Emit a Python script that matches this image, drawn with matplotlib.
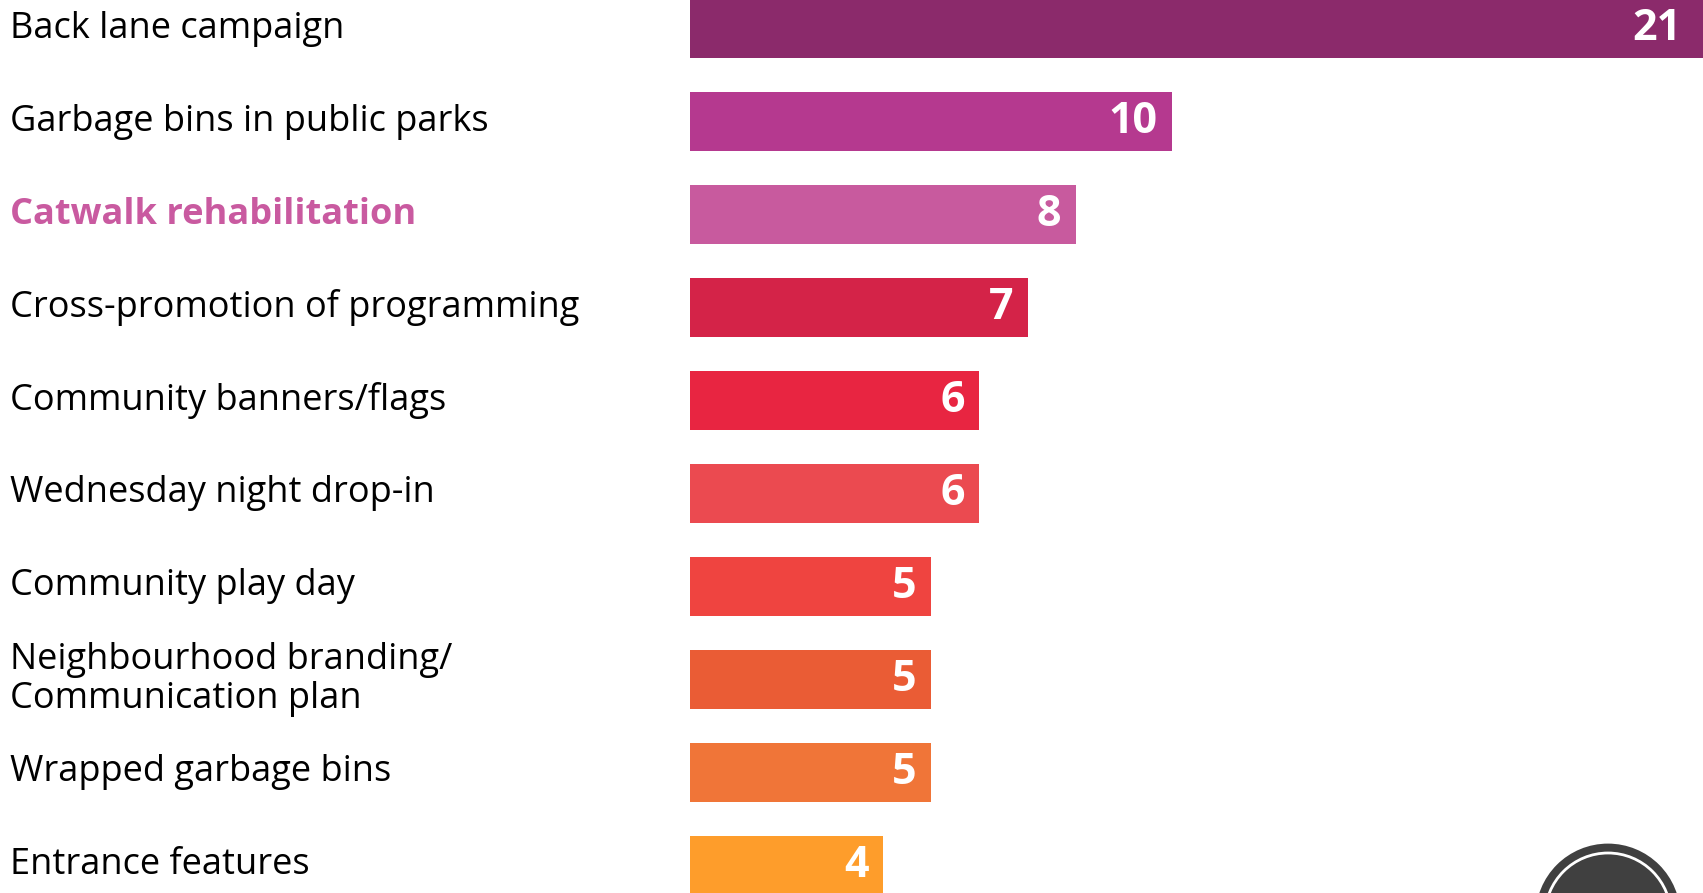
import matplotlib.pyplot as plt
from matplotlib.patches import Circle
from matplotlib.transforms import blended_transform_factory

# data
labels = [
    "Back lane campaign",
    "Garbage bins in public parks",
    "Catwalk rehabilitation",
    "Cross-promotion of programming",
    "Community banners/flags",
    "Wednesday night drop-in",
    "Community play day",
    "Neighbourhood branding/\nCommunication plan",
    "Wrapped garbage bins",
    "Entrance features",
]
counts = [21, 10, 8, 7, 6, 6, 5, 5, 5, 4]
colors = ["#8B2A6B", "#B5398F", "#C85A9E", "#D42348", "#E82541",
          "#EB4A50", "#EF4440", "#EA5C35", "#F07538", "#FE9D2B"]
highlight = 2  # Catwalk rehabilitation

plt.rcParams['font.family'] = ['Open Sans', 'DejaVu Sans']

W, H = 1703, 893
fig = plt.figure(figsize=(W / 100, H / 100), dpi=100)
ax = fig.add_axes([690 / W, 0, 1 - 690 / W, 1])

ypos = list(range(len(labels)))
ax.barh(ypos, counts, height=0.635, color=colors)
ax.set_xlim(0, 21.0)
ax.set_ylim(9.30, -0.31)
ax.axis("off")

# value labels inside the bar ends
for y, v in zip(ypos, counts):
    pad = 0.45 if v > 15 else 0.3
    ax.text(v - pad, y, str(v), ha="right", va="center", color="white",
            fontsize=31, fontweight="bold")

# category labels at the left edge of the figure
tr = blended_transform_factory(fig.transFigure, ax.transData)
for i, (y, lab) in enumerate(zip(ypos, labels)):
    if i == highlight:
        ax.text(10 / W, y, lab, transform=tr, ha="left", va="center",
                fontsize=26, fontweight="bold", color="#C95AA0",
                clip_on=False)
    else:
        ax.text(10 / W, y, lab, transform=tr, ha="left", va="center",
                fontsize=26, color="black", linespacing=1.1,
                clip_on=False)

# logo in the bottom right corner
logo = Circle((16.08, -0.23), 0.724, transform=fig.dpi_scale_trans,
              facecolor="#404040", edgecolor="none")
ring = Circle((16.08, -0.23), 0.63, transform=fig.dpi_scale_trans,
              facecolor="none", edgecolor="white", linewidth=2)
fig.patches.extend([logo, ring])

fig.savefig("out.png", dpi=100)
